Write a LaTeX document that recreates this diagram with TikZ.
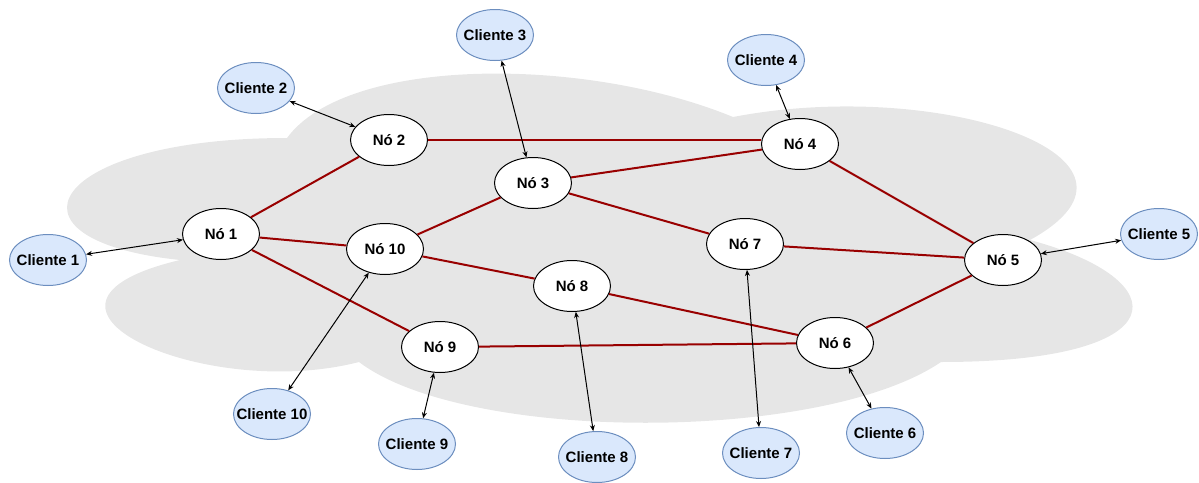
\documentclass[tikz,border=0pt]{standalone}
\usepackage{fontspec}
\setmainfont{Liberation Sans}
\usetikzlibrary{shapes.geometric, arrows.meta}

\definecolor{nuvem}{HTML}{E6E6E6}
\definecolor{clientefill}{HTML}{DAE8FC}
\definecolor{clientedraw}{HTML}{6C8EBF}
\definecolor{vermelho}{HTML}{990000}

\begin{document}
\begin{tikzpicture}[x=1pt, y=-1pt,
        rede/.style = {ellipse, draw, fill=white, line width=1pt, minimum width=77pt, minimum height=51pt, inner ysep=0pt, inner xsep=-10pt, font=\fontsize{15}{18}\selectfont\bfseries},
        cliente/.style = {rede, draw=clientedraw, fill=clientefill},
        ligacao/.style = {draw=vermelho, line width=2pt},
        acesso/.style = {line width=1pt, {Stealth[length=6pt,width=5pt]}-{Stealth[length=6pt,width=5pt]}}]
        \useasboundingbox (0,0) rectangle (1199,482);

        \fill[nuvem] (287,138) .. controls (49,138) and (-10,240) .. (180,260)
            .. controls (-10,305) and (204,402) .. (359,362)
            .. controls (466,443) and (822,443) .. (941,362)
            .. controls (1179,362) and (1179,280) .. (1030,240)
            .. controls (1179,158) and (941,77) .. (733,117)
            .. controls (585,56) and (347,56) .. (287,138) -- cycle;

        \node (No1) [rede] at (221,234) {Nó 1};
        \node (No2) [rede] at (389,140) {Nó 2};
        \node (No3) [rede] at (533,183) {Nó 3};
        \node (No4) [rede] at (800,144) {Nó 4};
        \node (No5) [rede] at (1003,260) {Nó 5};
        \node (No6) [rede] at (835,343) {Nó 6};
        \node (No7) [rede] at (745,244) {Nó 7};
        \node (No8) [rede] at (572,286) {Nó 8};
        \node (No9) [rede] at (440,347) {Nó 9};
        \node (No10) [rede] at (385,249) {Nó 10};

        \node (Cliente1) [cliente] at (48,260) {Cliente 1};
        \node (Cliente2) [cliente] at (256,88) {Cliente 2};
        \node (Cliente3) [cliente] at (495,35) {Cliente 3};
        \node (Cliente4) [cliente] at (766,60) {Cliente 4};
        \node (Cliente5) [cliente] at (1159,234) {Cliente 5};
        \node (Cliente6) [cliente] at (885,433) {Cliente 6};
        \node (Cliente7) [cliente] at (761,453) {Cliente 7};
        \node (Cliente8) [cliente] at (597,457) {Cliente 8};
        \node (Cliente9) [cliente] at (417,444) {Cliente 9};
        \node (Cliente10) [cliente] at (272,414) {Cliente 10};

        \draw[ligacao] (No1) -- (No2);
        \draw[ligacao] (No1) -- (No10);
        \draw[ligacao] (No1) -- (No9);
        \draw[ligacao] (No2) -- (No2 -| No4.west);
        \draw[ligacao] (No3) -- (No4);
        \draw[ligacao] (No3) -- (No10);
        \draw[ligacao] (No3) -- (No7);
        \draw[ligacao] (No4) -- (No5);
        \draw[ligacao] (No7) -- (No5);
        \draw[ligacao] (No10) -- (No8);
        \draw[ligacao] (No8) -- (No6);
        \draw[ligacao] (No9) -- (No6);
        \draw[ligacao] (No6) -- (No5);

        \draw[acesso] (Cliente1) -- (No1);
        \draw[acesso] (Cliente2) -- (No2);
        \draw[acesso] (Cliente3) -- (No3);
        \draw[acesso] (Cliente4) -- (No4);
        \draw[acesso] (Cliente5) -- (No5);
        \draw[acesso] (Cliente6) -- (No6);
        \draw[acesso] (Cliente7) -- (No7);
        \draw[acesso] (Cliente8) -- (No8);
        \draw[acesso] (Cliente9) -- (No9);
        \draw[acesso] (Cliente10) -- (No10);
    \end{tikzpicture}
\end{document}
